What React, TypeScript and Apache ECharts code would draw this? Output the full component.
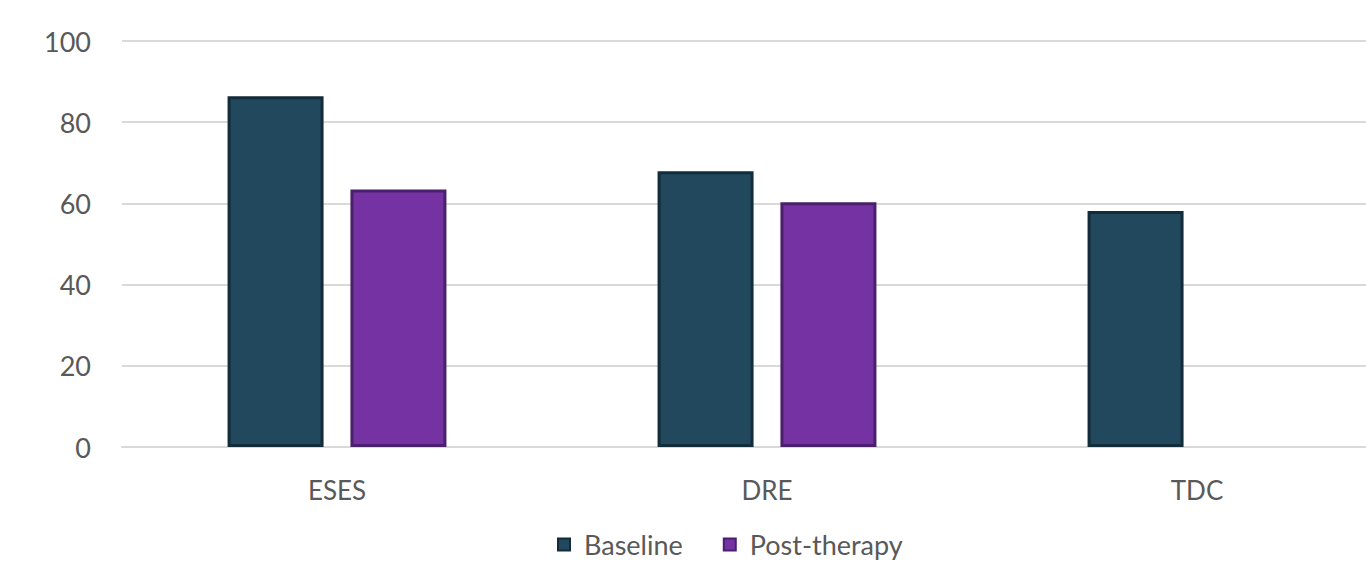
import React, { useEffect, useRef } from "react";
import * as echarts from "echarts";

const categories = ["ESES", "DRE", "TDC"];
const baseline = [86.4, 67.9, 58.1];
const postTherapy: (number | null)[] = [63.4, 60.3, null];
const yTicks = { min: 0, max: 100, interval: 20 };

export default function App() {
  const ref = useRef<HTMLDivElement>(null);
  useEffect(() => {
    if (!ref.current) return;
    const chart = echarts.init(ref.current, null, { renderer: "svg" });
    const font = "Lato, 'Open Sans', sans-serif";
    chart.setOption({
      animation: false,
      backgroundColor: "#ffffff",
      grid: { left: 122, right: 0, top: 41, bottom: 114, containLabel: false },
      legend: {
        top: 531,
        left: 557,
        padding: 0,
        icon: "rect",
        itemWidth: 12,
        itemHeight: 12,
        itemGap: 40,
        textStyle: { fontFamily: font, fontSize: 27, color: "#595959", padding: [0, 0, 0, 9] },
        data: ["Baseline", "Post-therapy"],
      },
      xAxis: {
        type: "category",
        data: categories,
        axisLine: { show: true, lineStyle: { color: "#d9d9d9", width: 2 } },
        axisTick: { show: false },
        axisLabel: { fontFamily: font, fontSize: 26, color: "#595959", margin: 30 },
      },
      yAxis: {
        type: "value",
        min: yTicks.min,
        max: yTicks.max,
        interval: yTicks.interval,
        axisLine: { show: false },
        axisTick: { show: false },
        splitLine: { lineStyle: { color: "#d9d9d9", width: 2 } },
        axisLabel: { fontFamily: font, fontSize: 27, color: "#595959", margin: 31 },
      },
      series: [
        {
          name: "Baseline",
          type: "bar",
          data: baseline,
          barWidth: 96,
          barGap: "28%",
          itemStyle: { color: "#22485e", borderColor: "#132c3a", borderWidth: 3 },
        },
        {
          name: "Post-therapy",
          type: "bar",
          data: postTherapy,
          barWidth: 96,
          barGap: "28%",
          itemStyle: { color: "#7532a3", borderColor: "#4a1f6b", borderWidth: 3 },
        },
      ],
    });
    return () => chart.dispose();
  }, []);
  return (
    <div
      style={{ position: "fixed", left: 0, top: 0, width: 1366, height: 561, overflow: "hidden", background: "#fff" }}
    >
      <div ref={ref} style={{ position: "absolute", left: 0, top: 0, width: 1412, height: 561 }} />
    </div>
  );
}
